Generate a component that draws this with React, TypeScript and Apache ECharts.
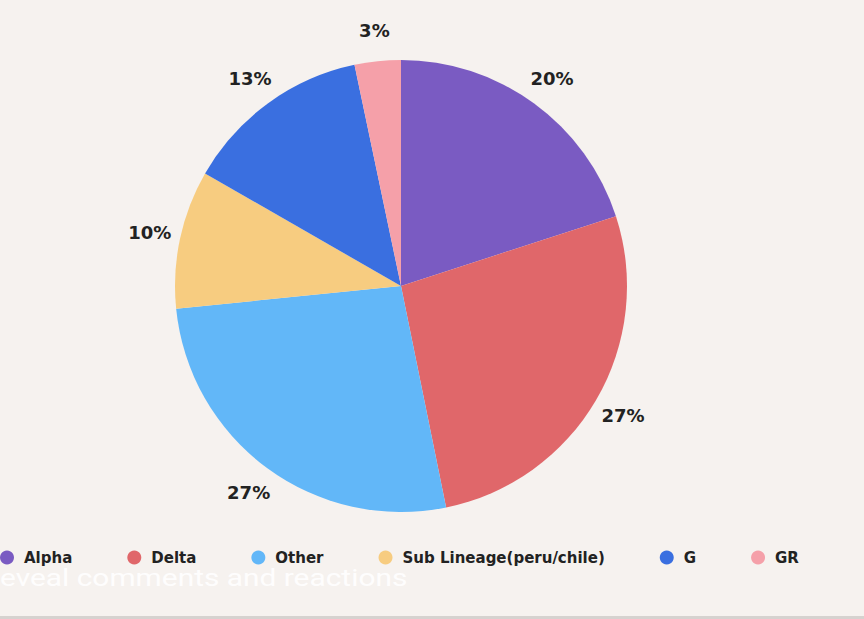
import React, { useEffect, useRef } from "react";
import * as echarts from "echarts";

const categories = ["Alpha", "Delta", "Other", "Sub Lineage(peru/chile)", "G", "GR"];
const values = [20.0, 26.8, 26.6, 9.9, 13.4, 3.3];
const colors = ["#7a5bc2", "#e0676a", "#62b7f8", "#f7cc80", "#3a6fe0", "#f5a0a9"];

export default function App() {
  const ref = useRef<HTMLDivElement>(null);
  useEffect(() => {
    if (!ref.current) return;
    const chart = echarts.init(ref.current, null, { renderer: "svg" });
    const data = categories.map((name, i) => ({
      name,
      value: values[i],
      itemStyle: { color: colors[i] },
    }));
    const ringData = categories.map((name, i) => ({
      name,
      value: values[i],
      itemStyle: { color: "rgba(0,0,0,0)" },
    }));
    chart.setOption({
      animation: false,
      backgroundColor: "#f6f2ef",
      color: colors,
      legend: {
        left: -5,
        top: 545,
        icon: "circle",
        itemWidth: 14,
        itemHeight: 14,
        itemGap: 55,
        textStyle: {
          fontFamily: "DejaVu Sans",
          fontWeight: "bold",
          fontSize: 15,
          color: "#222",
          padding: [0, 0, 0, 5],
        },
        data: categories,
      },
      series: [
        {
          type: "pie",
          center: [401, 286],
          radius: [0, 226],
          startAngle: 90,
          clockwise: true,
          label: { show: false },
          labelLine: { show: false },
          emphasis: { disabled: true },
          data,
        },
        {
          type: "pie",
          center: [401, 286],
          radius: [226, 282],
          startAngle: 90,
          clockwise: true,
          silent: true,
          percentPrecision: 0,
          legendHoverLink: false,
          label: {
            show: true,
            position: "inside",
            formatter: "{d}%",
            fontFamily: "DejaVu Sans",
            fontWeight: "bold",
            fontSize: 18,
            color: "#222",
          },
          labelLine: { show: false },
          data: ringData,
        },
      ],
      graphic: [
        {
          type: "text",
          x: 0,
          y: 567,
          scaleX: 1.3,
          style: {
            x: 0,
            y: 0,
            text: "eveal comments and reactions",
            fill: "rgba(255,255,255,0.92)",
            fontFamily: "Roboto",
            fontSize: 23,
            verticalAlign: "top",
          },
        },
        {
          type: "rect",
          shape: { x: 0, y: 616, width: 864, height: 3 },
          style: { fill: "#d6d2cf" },
        },
      ],
    });
    return () => chart.dispose();
  }, []);
  return (
    <div
      ref={ref}
      style={{ position: "fixed", left: 0, top: 0, width: 864, height: 619 }}
    />
  );
}
